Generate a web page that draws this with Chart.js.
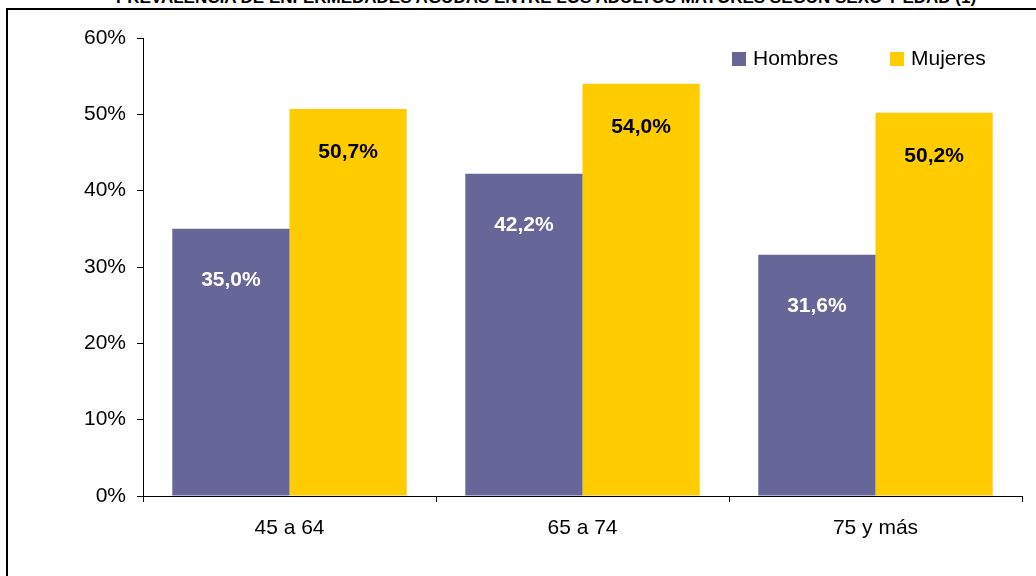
<!DOCTYPE html>
<html>
<head>
<meta charset="utf-8">
<script src="https://cdn.jsdelivr.net/npm/chart.js@4.4.1/dist/chart.umd.min.js"></script>
<style>
  html, body { margin: 0; padding: 0; background: #fff; overflow: hidden; }
  #wrap { position: relative; width: 1036px; height: 576px; font-family: "Liberation Sans", Arial, sans-serif; }
  #frame { position: absolute; left: 6px; top: 8px; width: 1040px; height: 600px; border: 2px solid #000; box-sizing: border-box; }
  #title { position: absolute; left: 28px; width: 1036px; top: -12px; text-align: center; font-weight: bold; font-size: 17px; color: #000; }
  canvas { position: absolute; left: 0; top: 0; }
  .leg { position: absolute; top: 46px; font-size: 21px; color: #000; }
  .leg span { display: inline-block; width: 14px; height: 14px; margin-right: 7px; vertical-align: -1px; }
</style>
</head>
<body>
<div id="wrap">
  <div id="frame"></div>
  <div id="title">PREVALENCIA DE ENFERMEDADES AGUDAS ENTRE LOS ADULTOS MAYORES SEGÚN SEXO Y EDAD (1)</div>
  <canvas id="chart" width="1036" height="576"></canvas>
  <div class="leg" style="left:732px"><span style="background:#666699"></span>Hombres</div>
  <div class="leg" style="left:890px"><span style="background:#FFCC00"></span>Mujeres</div>
</div>
<script>
const categories = ['45 a 64', '65 a 74', '75 y más'];
const hombres = [35.0, 42.2, 31.6];
const mujeres = [50.7, 54.0, 50.2];

const HOMBRES_COLOR = '#666699';
const MUJERES_COLOR = '#FFCC00';
const FONT = '"Liberation Sans", Arial, sans-serif';

// value labels inside the bars, near the top
const barLabels = {
  id: 'barLabels',
  afterDatasetsDraw(chart) {
    const ctx = chart.ctx;
    ctx.save();
    ctx.font = 'bold 21px ' + FONT;
    ctx.textAlign = 'center';
    ctx.textBaseline = 'middle';
    chart.data.datasets.forEach((ds, di) => {
      const meta = chart.getDatasetMeta(di);
      meta.data.forEach((bar, i) => {
        const txt = ds.data[i].toFixed(1).replace('.', ',') + '%';
        ctx.fillStyle = di === 0 ? '#fff' : '#000';
        ctx.fillText(txt, bar.x, bar.y + (di === 0 ? 51 : 43));
      });
    });
    ctx.restore();
  },
};

new Chart(document.getElementById('chart'), {
  type: 'bar',
  data: {
    labels: categories,
    datasets: [
      { label: 'Hombres', data: hombres, backgroundColor: HOMBRES_COLOR },
      { label: 'Mujeres', data: mujeres, backgroundColor: MUJERES_COLOR },
    ],
  },
  options: {
    responsive: false,
    animation: false,
    layout: { padding: { left: 0, right: 14, top: 38, bottom: 0 } },
    datasets: { bar: { categoryPercentage: 0.8, barPercentage: 1.0 } },
    plugins: { legend: { display: false }, tooltip: { enabled: false } },
    scales: {
      x: {
        afterFit: (s) => { s.height = 80; },
        grid: { drawOnChartArea: false, tickLength: 6, color: '#000', offset: true },
        border: { color: '#000', width: 1 },
        ticks: { color: '#000', padding: 14, font: { size: 21, family: FONT } },
      },
      y: {
        min: 0,
        max: 60,
        afterFit: (s) => { s.width = 143; },
        grid: { drawOnChartArea: false, tickLength: 6, color: '#000' },
        border: { color: '#000', width: 1 },
        ticks: {
          stepSize: 10,
          color: '#000',
          padding: 11,
          font: { size: 21, family: FONT },
          callback: (v) => v + '%',
        },
      },
    },
  },
  plugins: [barLabels],
});
</script>
</body>
</html>
